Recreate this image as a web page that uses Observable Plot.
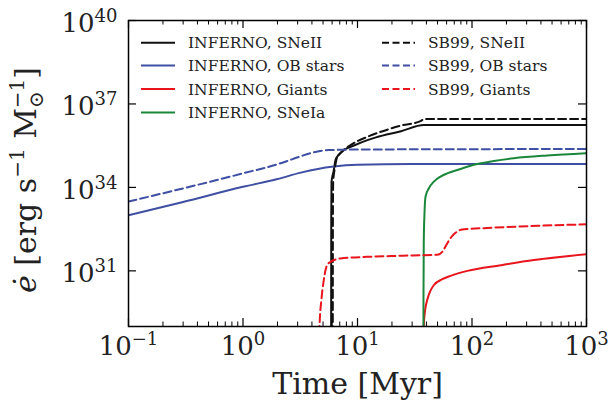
<!DOCTYPE html>
<html><head><meta charset="utf-8">
<script src="https://cdn.jsdelivr.net/npm/d3@7"></script>
<script src="https://cdn.jsdelivr.net/npm/@observablehq/plot@0.6"></script>
<style>body{margin:0;background:#fff} #chart svg{display:block}</style>
</head><body><div id="chart"></div>
<script>
// ---- data (time in Myr, energy rate in erg s^-1 Msun^-1) ----
const infSNII_t = [5.88, 5.9, 5.93, 6.2, 6.43, 6.87, 7.6, 9.3, 12.2, 14.5, 24, 38, 1000];
const infSNII_e = [1e27, 1.0e33, 1.6e34, 4.0e34, 9.8e34, 1.5e35, 2.2e35, 3.2e35, 5.0e35, 6.3e35, 1.05e36, 1.74e36, 1.74e36];

const sbSNII_t = [6.08, 6.1, 6.13, 6.35, 6.6, 7.1, 8.7, 12.2, 16, 23.8, 35.5, 38.5, 1000];
const sbSNII_e = [1e27, 1.0e33, 1.6e34, 5.0e34, 1.15e35, 1.7e35, 3.3e35, 6.6e35, 1.0e36, 1.66e36, 2.4e36, 2.9e36, 2.9e36];

const infOB_t = [0.1, 0.3, 1.0, 2.0, 3.2, 4.5, 6.2, 10, 30, 1000];
const infOB_e = [1.0e33, 3.0e33, 1.05e34, 2.0e34, 3.4e34, 4.6e34, 5.6e34, 6.5e34, 6.9e34, 6.9e34];

const sbOB_t = [0.1, 1.0, 2.0, 3.2, 3.8, 4.6, 5.6, 10, 1000];
const sbOB_e = [3.1e33, 3.2e34, 6.8e34, 1.32e35, 1.66e35, 2.0e35, 2.2e35, 2.3e35, 2.4e35];

const infGiants_t = [37.5, 38.0, 39.0, 40.6, 43, 46.5, 55, 65, 91, 178, 347, 1000];
const infGiants_e = [1e27, 1.3e29, 4.0e29, 8.9e29, 1.8e30, 3.1e30, 5.0e30, 6.6e30, 1.0e31, 1.6e31, 2.45e31, 4.0e31];

const sbGiants_t = [4.6, 4.66, 4.85, 5.05, 5.35, 5.7, 7.1, 12.2, 25, 50, 55, 60, 67, 74, 80, 150, 400, 1000];
const sbGiants_e = [1e27, 1.0e29, 1.0e30, 4.0e30, 1.4e31, 2.0e31, 2.8e31, 3.2e31, 3.5e31, 3.8e31, 4.8e31, 8.9e31, 1.78e32, 2.57e32, 3.0e32, 3.55e32, 4.2e32, 4.7e32];

const infSNIa_t = [37.6, 37.7, 37.9, 38.5, 39.3, 42, 46.5, 53.1, 60.7, 79.4, 104, 155, 232, 453, 1000];
const infSNIa_e = [1e27, 1.0e30, 1.0e32, 1.3e33, 4.7e33, 9.3e33, 1.62e34, 2.45e34, 3.2e34, 4.6e34, 6.5e34, 8.9e34, 1.12e35, 1.41e35, 1.7e35];

const seriesNames = ["INFERNO, SNeII", "INFERNO, OB stars", "INFERNO, Giants", "INFERNO, SNeIa", "SB99, SNeII", "SB99, OB stars", "SB99, Giants"];
const seriesT = [infSNII_t, infOB_t, infGiants_t, infSNIa_t, sbSNII_t, sbOB_t, sbGiants_t];
const seriesE = [infSNII_e, infOB_e, infGiants_e, infSNIa_e, sbSNII_e, sbOB_e, sbGiants_e];
const seriesColor = ["#111111", "#3f4fa3", "#e8151c", "#1a873a", "#111111", "#3f4fa3", "#e8151c"];
const seriesDash = [null, null, null, null, "8,4", "8,4", "8,4"];

const xMajor = [0.1, 1, 10, 100, 1000];
const xMinor = [0.2,0.3,0.4,0.5,0.6,0.7,0.8,0.9, 2,3,4,5,6,7,8,9, 20,30,40,50,60,70,80,90, 200,300,400,500,600,700,800,900];
const yMajor = [1e31, 1e34, 1e37, 1e40];

const rows = [];
seriesNames.forEach((name, i) => seriesT[i].forEach((t, j) => rows.push({series: name, t, e: seriesE[i][j]})));

const W = 611, H = 401, ML = 128, MR = 25, MT = 20, MB = 75;
const FW = W - ML - MR, FH = H - MT - MB;
const FONT = "DejaVu Serif";

const lineMarks = [0,1,2,3,4,5,6].map(i => Plot.line(rows.filter(r => r.series === seriesNames[i]), {
  x: "t", y: "e", stroke: seriesColor[i], strokeWidth: 2, strokeDasharray: seriesDash[i],
  curve: "monotone-x", clip: true
}));

const plot = Plot.plot({
  width: W, height: H,
  marginLeft: ML, marginRight: MR, marginTop: MT, marginBottom: MB,
  style: {fontFamily: FONT, background: "white", color: "black"},
  x: {type: "log", domain: [0.1, 1000]},
  y: {type: "log", domain: [1e29, 1e40]},
  marks: [
    ...lineMarks,
    Plot.tickX(xMajor, {x: d => d, insetTop: FH - 8, stroke: "black", strokeWidth: 1.2}),
    Plot.tickX(xMajor, {x: d => d, insetBottom: FH - 8, stroke: "black", strokeWidth: 1.2}),
    Plot.tickX(xMinor, {x: d => d, insetTop: FH - 4.5, stroke: "black", strokeWidth: 1}),
    Plot.tickX(xMinor, {x: d => d, insetBottom: FH - 4.5, stroke: "black", strokeWidth: 1}),
    Plot.tickY(yMajor, {y: d => d, insetRight: FW - 8, stroke: "black", strokeWidth: 1.2}),
    Plot.tickY(yMajor, {y: d => d, insetLeft: FW - 8, stroke: "black", strokeWidth: 1.2}),
    Plot.frame({stroke: "black", strokeWidth: 1.5}),
    Plot.axisX(xMajor, {tickSize: 0, tickPadding: 10, fontSize: 26, fill: "#222",
      tickFormat: d => "10^" + Math.round(Math.log10(d)), label: null}),
    Plot.axisY(yMajor, {tickSize: 0, tickPadding: 11, fontSize: 26, fill: "#222", dy: 3,
      tickFormat: d => "10^" + Math.round(Math.log10(d)), label: null}),
    Plot.text(["Time [Myr]"], {frameAnchor: "bottom", dy: 67, lineAnchor: "bottom", fontSize: 30, fill: "#222"})
  ]
});

document.getElementById("chart").appendChild(plot);
const svg = d3.select(plot);

// superscript exponents on tick labels
svg.selectAll("text").each(function() {
  const m = /^10\^(-?\d+)$/.exec(this.textContent);
  if (!m) return;
  const el = d3.select(this);
  el.text("10");
  el.append("tspan").attr("dy", -10).attr("font-size", 18).text(m[1].replace("-", "\u2212"));
});

// y-axis label
const yl = svg.append("text")
  .attr("transform", `translate(36,180) rotate(-90)`)
  .attr("text-anchor", "middle").attr("font-family", FONT).attr("font-size", 30).attr("fill", "#222");
yl.append("tspan").attr("font-style", "italic").text("\u0117");
yl.append("tspan").text(" [erg s");
yl.append("tspan").attr("dy", -12).attr("font-size", 20).text("\u22121");
yl.append("tspan").attr("dy", 12).text(" M");
yl.append("tspan").attr("dy", 7).attr("font-size", 20).text("\u2299");
yl.append("tspan").attr("dx", -17).attr("dy", -19).attr("font-size", 20).text("\u22121");
yl.append("tspan").attr("dy", 12).text("]");

// legend
const leg = svg.append("g").attr("font-family", FONT).attr("font-size", 15.5).attr("fill", "#222").attr("text-anchor", "start");
const legCols = [{x0: 141, x1: 175, tx: 188}, {x0: 382, x1: 415, tx: 428}];
const legRows = [42.7, 65.5, 89, 112.5];
seriesNames.forEach((name, i) => {
  const c = legCols[i < 4 ? 0 : 1], r = legRows[i < 4 ? i : i - 4];
  leg.append("line").attr("x1", c.x0).attr("x2", c.x1).attr("y1", r).attr("y2", r)
    .attr("stroke", seriesColor[i]).attr("stroke-width", 2)
    .attr("stroke-dasharray", seriesDash[i] ? "7,3.5" : null);
  leg.append("text").attr("x", c.tx).attr("y", r + 5.5).attr("text-anchor", "start").text(name);
});
</script>
</body></html>
